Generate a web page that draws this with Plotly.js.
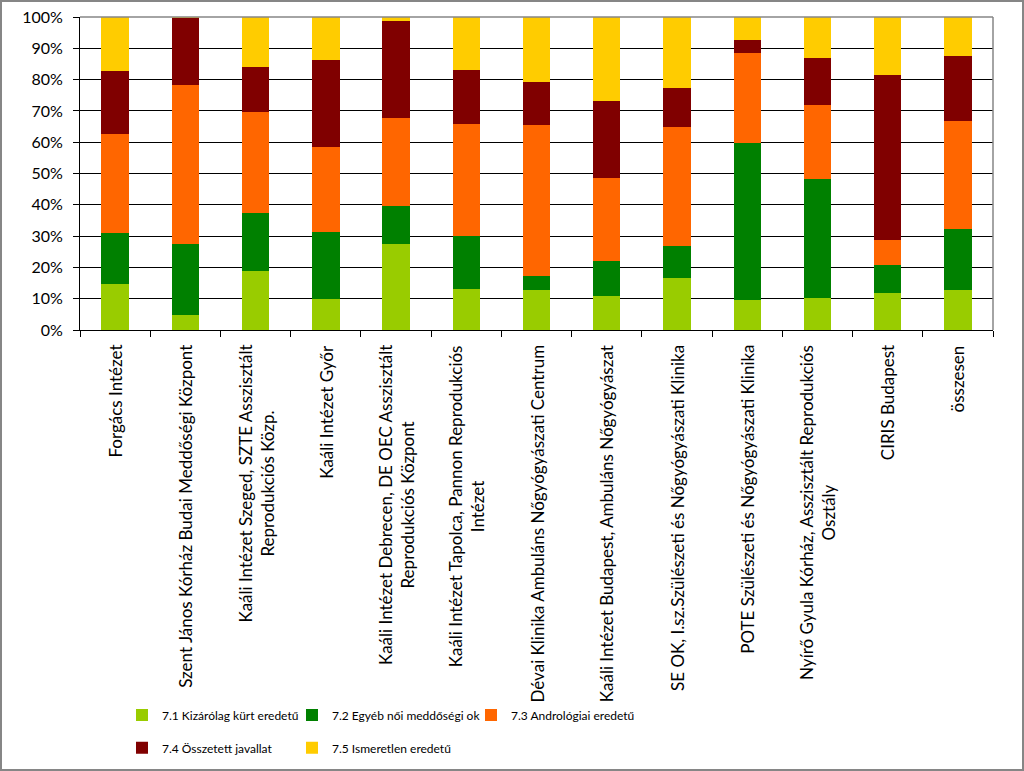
<!DOCTYPE html>
<html>
<head>
<meta charset="utf-8">
<script src="https://cdn.plot.ly/plotly-3.0.1.min.js"></script>
<style>
  html, body { margin: 0; padding: 0; background: #fff; }
  #chart { position: absolute; left: 0; top: 0; width: 1024px; height: 771px;
           box-sizing: border-box; border: 2px solid #868686; }
</style>
</head>
<body>
<div id="chart"></div>
<script>
// Categories (institutions)
var categories = [
  "Forgács Intézet",
  "Szent János Kórház Budai Meddőségi Központ",
  "Kaáli Intézet Szeged, SZTE Asszisztált Reprodukciós Közp.",
  "Kaáli Intézet Győr",
  "Kaáli Intézet Debrecen, DE OEC Asszisztált Reprodukciós Központ",
  "Kaáli Intézet Tapolca, Pannon Reprodukciós Intézet",
  "Dévai Klinika Ambuláns Nőgyógyászati Centrum",
  "Kaáli Intézet Budapest, Ambuláns Nőgyógyászat",
  "SE OK, I.sz.Szülészeti és Nőgyógyászati Klinika",
  "POTE Szülészeti és Nőgyógyászati Klinika",
  "Nyírő Gyula Kórház, Asszisztált Reprodukciós Osztály",
  "CIRIS Budapest",
  "összesen"
];
// Category tick labels, wrapped as in the reference
var tickLabels = [
  "Forgács Intézet",
  "Szent János Kórház Budai Meddőségi Központ",
  "Kaáli Intézet Szeged, SZTE Asszisztált<br>Reprodukciós Közp.",
  "Kaáli Intézet Győr",
  "Kaáli Intézet Debrecen, DE OEC Asszisztált<br>Reprodukciós Központ",
  "Kaáli Intézet Tapolca, Pannon Reprodukciós<br>Intézet",
  "Dévai Klinika Ambuláns Nőgyógyászati Centrum",
  "Kaáli Intézet Budapest, Ambuláns Nőgyógyászat",
  "SE OK, I.sz.Szülészeti és Nőgyógyászati Klinika",
  "POTE Szülészeti és Nőgyógyászati Klinika",
  "Nyírő Gyula Kórház, Asszisztált Reprodukciós<br>Osztály",
  "CIRIS Budapest",
  "összesen"
];
// Series names
var seriesNames = [
  "7.1 Kizárólag kürt eredetű",
  "7.2 Egyéb női meddőségi ok",
  "7.3 Andrológiai eredetű",
  "7.4 Összetett javallat",
  "7.5 Ismeretlen eredetű"
];
// Series values (% share per institution)
var s71 = [14.6, 4.9, 18.9, 9.9, 27.6, 13.1, 12.8, 10.9, 16.5, 9.7, 10.3, 11.7, 12.8];
var s72 = [16.4, 22.7, 18.4, 21.4, 12.0, 16.8, 4.4, 11.1, 10.3, 50.1, 38.1, 9.1, 19.4];
var s73 = [31.6, 50.7, 32.4, 27.3, 28.1, 35.9, 48.3, 26.7, 38.1, 28.8, 23.6, 8.1, 34.6];
var s74 = [20.2, 21.4, 14.3, 27.6, 31.1, 17.4, 13.6, 24.4, 12.3, 3.9, 14.8, 52.5, 20.8];
var s75 = [17.2, 0.3, 16.0, 13.8, 1.2, 16.8, 20.9, 26.9, 22.8, 7.5, 13.2, 18.6, 12.4];
// Y axis ticks
var yTickVals = [0, 10, 20, 30, 40, 50, 60, 70, 80, 90, 100];
var yTickText = ["0%", "10%", "20%", "30%", "40%", "50%", "60%", "70%", "80%", "90%", "100%"];

var seriesValues = [s71, s72, s73, s74, s75];
var colors = ["#99CC00", "#008000", "#FF6600", "#800000", "#FFCC00"];
var legendIds = ["legend", "legend", "legend", "legend2", "legend2"];
var legendWidths = [125, 134, 140, 125, 140];

var traces = seriesValues.map(function (vals, i) {
  return {
    type: "bar",
    name: seriesNames[i],
    x: categories,
    y: vals,
    marker: { color: colors[i], line: { width: 0 } },
    legend: legendIds[i],
    legendwidth: legendWidths[i],
    hoverinfo: "name+y"
  };
});

var labelFont = { family: "Lato, 'Noto Sans', sans-serif", size: 17, color: "#000" };

var annotations = categories.map(function (c, i) {
  return {
    x: c, xref: "x",
    y: 0, yref: "paper",
    yanchor: "top", xanchor: "center",
    yshift: -13,
    textangle: -90,
    text: tickLabels[i],
    showarrow: false,
    align: "center",
    font: labelFont
  };
});

var legendFont = { family: "Lato, 'Noto Sans', sans-serif", size: 12, color: "#000" };

var layout = {
  width: 1020,
  height: 767,
  margin: { l: 78, r: 29, t: 15, b: 439, autoexpand: false },
  paper_bgcolor: "#fff",
  plot_bgcolor: "#fff",
  barmode: "stack",
  barnorm: "percent",
  bargap: 0.61,
  font: { family: "Lato, 'Noto Sans', sans-serif", size: 16, color: "#000" },
  xaxis: {
    type: "category",
    tickson: "boundaries",
    ticks: "outside",
    ticklen: 6,
    tickcolor: "#000",
    showline: true,
    linecolor: "#000",
    linewidth: 1,
    showgrid: false,
    showticklabels: false,
    fixedrange: true
  },
  yaxis: {
    range: [0, 100],
    tickmode: "array",
    tickvals: yTickVals,
    ticktext: yTickText,
    ticks: "outside",
    ticklen: 6,
    tickcolor: "#000",
    ticklabelstandoff: 7,
    showline: true,
    linecolor: "#000",
    showgrid: true,
    gridcolor: "#000",
    gridwidth: 1,
    zeroline: false,
    tickfont: { family: "Lato, 'Noto Sans', sans-serif", size: 16, color: "#000" },
    fixedrange: true
  },
  showlegend: true,
  legend: {
    orientation: "h",
    x: 0.046, xanchor: "left",
    y: -1.230, yanchor: "middle",
    traceorder: "normal",
    font: legendFont,
    bgcolor: "rgba(0,0,0,0)"
  },
  legend2: {
    orientation: "h",
    x: 0.046, xanchor: "left",
    y: -1.335, yanchor: "middle",
    traceorder: "normal",
    font: legendFont,
    bgcolor: "rgba(0,0,0,0)"
  },
  annotations: annotations,
  shapes: [
    { type: "line", xref: "paper", yref: "paper", x0: 0, x1: 1, y0: 1, y1: 1,
      line: { color: "#868686", width: 1.5 }, layer: "above" },
    { type: "line", xref: "paper", yref: "paper", x0: 1, x1: 1, y0: 0, y1: 1,
      line: { color: "#868686", width: 1.5 }, layer: "above" }
  ]
};

Plotly.newPlot("chart", traces, layout, { displayModeBar: false, staticPlot: true });
</script>
</body>
</html>
